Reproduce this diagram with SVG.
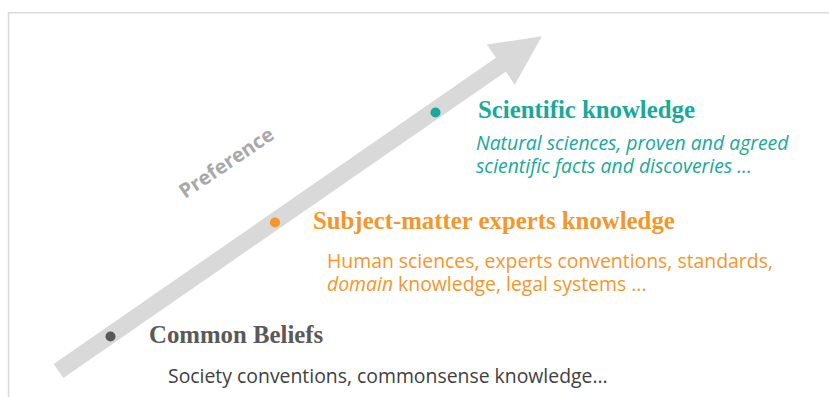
<svg xmlns="http://www.w3.org/2000/svg" width="829" height="397" viewBox="0 0 829 397">
<style>
.frame{fill:none;stroke:#d9d9d9;stroke-width:1.5}
.head{font-family:"Liberation Serif","Times New Roman",serif;font-weight:bold;font-size:24.8px}
.body{font-family:"Open Sans","Liberation Sans",sans-serif;font-size:19.4px}
.teal{fill:#17a99a}
.orange{fill:#f5962a}
.gray{fill:#595959}
.dark{fill:#404040}
</style>
<rect width="829" height="397" fill="#ffffff"/>
<path class="frame" d="M8.5,397 V12.75 H829"/>
<g id="arrow">
<polygon fill="#d9d9d9" transform="translate(58.5,371) rotate(-34.7)" points="0,-8.5 538,-8.5 538,-24.5 588,0 538,24.5 538,8.5 0,8.5"/>
<text transform="translate(185,199) rotate(-34)" font-family="Open Sans, Liberation Sans, sans-serif" font-weight="bold" font-size="20" fill="#a9a9a9">Preference</text>
</g>
<g id="scientific">
<circle cx="435.5" cy="112.5" r="5" fill="#17a99a"/>
<text class="head teal" x="478" y="118">Scientific knowledge</text>
<text class="body teal" font-style="italic"><tspan x="476" y="150">Natural sciences, proven and agreed</tspan><tspan x="476" y="173">scientific facts and discoveries ...</tspan></text>
</g>
<g id="experts">
<circle cx="275" cy="222.5" r="5" fill="#f5962a"/>
<text class="head orange" x="313" y="229">Subject-matter experts knowledge</text>
<text class="body orange"><tspan x="327" y="268">Human sciences, experts conventions, standards,</tspan><tspan x="327" y="291" font-style="italic">domain</tspan><tspan> knowledge, legal systems ...</tspan></text>
</g>
<g id="common">
<circle cx="110.5" cy="336.5" r="5" fill="#595959"/>
<text class="head gray" x="149" y="343">Common Beliefs</text>
<text class="body dark" x="168" y="383">Society conventions, commonsense knowledge...</text>
</g>
<g id="connectors"></g>
</svg>
